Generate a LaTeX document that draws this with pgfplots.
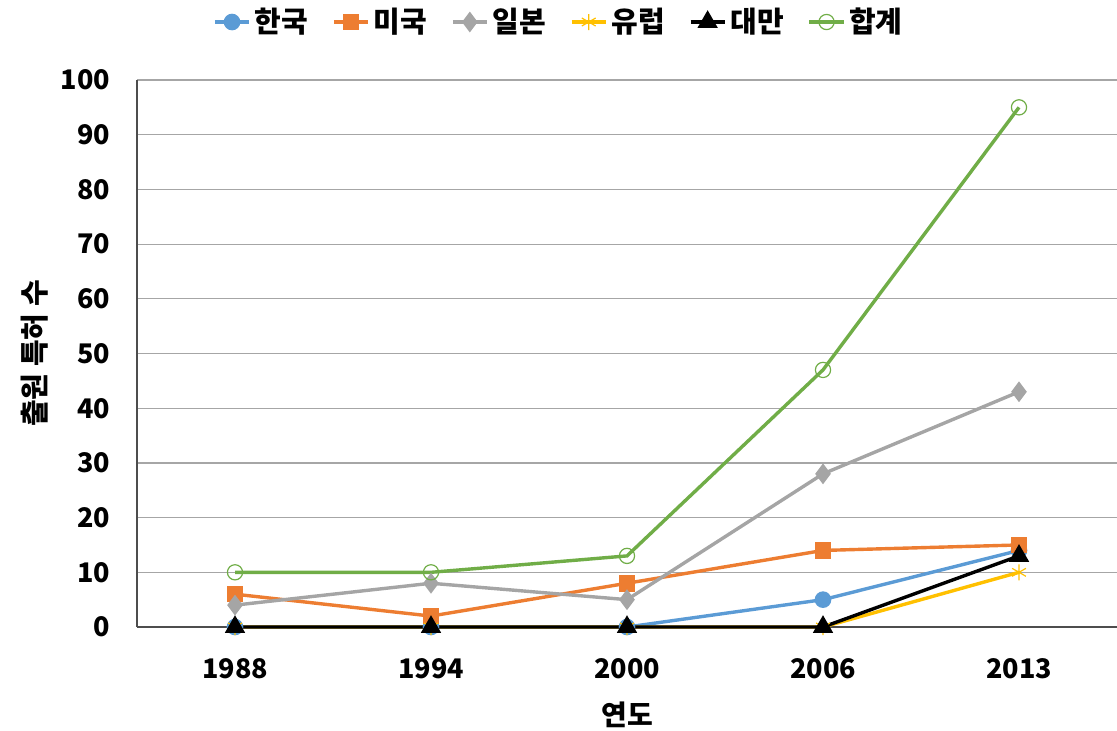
\documentclass[border=0pt]{standalone}
\usepackage{fontspec}
\setmainfont{Noto Sans CJK KR}
\usepackage{pgfplots}
\pgfplotsset{compat=1.18}

\definecolor{cKor}{HTML}{5B9BD5}
\definecolor{cUsa}{HTML}{ED7D31}
\definecolor{cJpn}{HTML}{A5A5A5}
\definecolor{cEur}{HTML}{FFC000}
\definecolor{cTwn}{HTML}{000000}
\definecolor{cSum}{HTML}{70AD47}
\definecolor{gridc}{HTML}{A6A6A6}
\definecolor{basec}{HTML}{4D4D4D}

\begin{document}
\begin{tikzpicture}
\path[use as bounding box] (-68.5pt,-51.5pt) rectangle (490pt,313.5pt);
\begin{axis}[
  scale only axis, width=490pt, height=273.5pt,
  at={(0,0)}, anchor=south west,
  xmin=-0.5, xmax=4.5, ymin=0, ymax=100,
  xtick={0,1,2,3,4},
  xticklabels={1988,1994,2000,2006,2013},
  ytick={0,10,...,100},
  major tick length=0pt,
  axis x line*=bottom, axis y line*=left,
  x axis line style={draw=basec, line width=1pt},
  y axis line style={draw=basec, line width=0.8pt},
  ymajorgrids, grid style={draw=gridc, line width=0.6pt},
  clip=false,
  /pgf/number format/assume math mode=true,
  ticklabel style={font=\bfseries\fontsize{13.5}{15}\selectfont, text=black},
  xticklabel style={yshift=-12pt},
  yticklabel style={xshift=-10pt},
  ylabel={출원 특허 수}, xlabel={연도},
  every axis y label/.style={at={(rel axis cs:-0.104,0.5)}, rotate=90, anchor=center,
    font=\bfseries\fontsize{14.5}{16}\selectfont},
  every axis x label/.style={at={(rel axis cs:0.5,-0.161)}, anchor=center,
    font=\bfseries\fontsize{14}{16}\selectfont},
  legend columns=6,
  legend style={draw=none, fill=none, at={(0.4316,1.106)}, anchor=center,
    font=\bfseries\fontsize{14.5}{16}\selectfont,
    /tikz/every even column/.append style={column sep=10pt},
    inner sep=0pt},
  legend cell align=left,
  every axis plot/.append style={line width=1.7pt},
]
\addplot[color=cKor, mark=*, mark size=3.3pt, mark options={fill=cKor, draw=cKor}]
  coordinates {(0,0) (1,0) (2,0) (3,5) (4,14)};
\addlegendentry{한국}
\addplot[color=cUsa, mark=square*, mark size=3.3pt, mark options={fill=cUsa, draw=cUsa}]
  coordinates {(0,6) (1,2) (2,8) (3,14) (4,15)};
\addlegendentry{미국}
\addplot[color=cJpn, mark=diamond*, mark size=3.8pt, mark options={fill=cJpn, draw=cJpn}]
  coordinates {(0,4) (1,8) (2,5) (3,28) (4,43)};
\addlegendentry{일본}
\addplot[color=cEur, mark=asterisk, mark size=4pt, mark options={draw=cEur, line width=0.6pt}]
  coordinates {(0,0) (1,0) (2,0) (3,0) (4,10)};
\addlegendentry{유럽}
\addplot[color=cTwn, mark=triangle*, mark size=4.2pt, mark options={fill=cTwn, draw=cTwn}]
  coordinates {(0,0) (1,0) (2,0) (3,0) (4,13)};
\addlegendentry{대만}
\addplot[color=cSum, mark=o, mark size=3.8pt, mark options={draw=cSum, line width=0.6pt}]
  coordinates {(0,10) (1,10) (2,13) (3,47) (4,95)};
\addlegendentry{합계}
\end{axis}
\end{tikzpicture}
\end{document}
